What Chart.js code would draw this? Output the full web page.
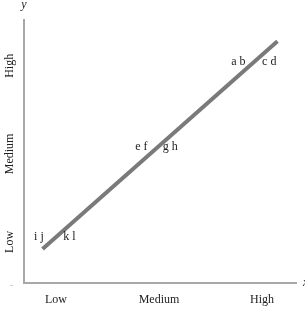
<!DOCTYPE html>
<html>
<head>
<meta charset="utf-8">
<script src="https://cdn.jsdelivr.net/npm/chart.js@4/dist/chart.umd.min.js"></script>
<style>
  html, body { margin: 0; padding: 0; background: #fff; }
  #wrap { width: 305px; height: 317px; }
</style>
</head>
<body>
<div id="wrap"><canvas id="chartCanvas" width="305" height="317"></canvas></div>
<script>
// tick positions and names
const tickValues = [1, 2, 3];
const tickNames = ['Low', 'Medium', 'High'];

// the single line (two end points)
const lineX = [0.87, 3.15];
const lineY = [0.92, 3.28];

// letter pairs placed along the line
const pairText = ['a b', 'c d', 'e f', 'g h', 'i j', 'k l'];
const pairX = [2.77, 3.07, 1.83, 2.11, 0.835, 1.13];
const pairY = [3.05, 3.05, 2.08, 2.08, 1.06, 1.06];

const serif = '"Liberation Serif", "DejaVu Serif", serif';

const extrasPlugin = {
    id: 'extras',
    afterDatasetsDraw(chart) {
        const ctx = chart.ctx;
        const xs = chart.scales.x;
        const ys = chart.scales.y;
        const area = chart.chartArea;
        ctx.save();
        ctx.fillStyle = '#222';
        ctx.font = '12px ' + serif;
        ctx.textAlign = 'center';
        ctx.textBaseline = 'middle';
        pairText.forEach((t, i) => {
            ctx.fillText(t, xs.getPixelForValue(pairX[i]), ys.getPixelForValue(pairY[i]));
        });

        // rotated y tick names
        tickValues.forEach((v, i) => {
            ctx.save();
            ctx.translate(10, ys.getPixelForValue(v));
            ctx.rotate(-Math.PI / 2);
            ctx.fillText(tickNames[i], 0, 0);
            ctx.restore();
        });

        // axis names
        ctx.font = 'italic 12px ' + serif;
        ctx.fillText('y', area.left, area.top - 15);
        ctx.textAlign = 'left';
        ctx.fillText('x', area.right + 7, area.bottom);

        ctx.fillStyle = '#ccc';
        ctx.fillRect(10, area.bottom + 2, 3, 1);
        ctx.restore();
    }
};

new Chart(document.getElementById('chartCanvas').getContext('2d'), {
    type: 'scatter',
    data: {
        datasets: [{
            data: lineX.map((x, i) => ({ x: x, y: lineY[i] })),
            showLine: true,
            borderColor: '#7a7a7a',
            borderWidth: 4,
            borderCapStyle: 'butt',
            pointRadius: 0,
            fill: false
        }]
    },
    options: {
        responsive: false,
        animation: false,
        layout: { padding: { left: 0, top: 20, right: 9, bottom: 0 } },
        plugins: { legend: { display: false }, tooltip: { enabled: false } },
        scales: {
            x: {
                type: 'linear',
                min: 0.69,
                max: 3.33,
                afterBuildTicks: scale => { scale.ticks = tickValues.map(v => ({ value: v })); },
                afterFit: scale => { scale.height = 34; },
                grid: { display: false, drawTicks: false },
                border: { display: true, color: '#a8a8a8', width: 2 },
                ticks: {
                    padding: 10,
                    maxRotation: 0,
                    color: '#222',
                    font: { family: serif, size: 12 },
                    callback: v => tickNames[tickValues.indexOf(v)]
                }
            },
            y: {
                type: 'linear',
                min: 0.534,
                max: 3.52,
                afterBuildTicks: scale => { scale.ticks = tickValues.map(v => ({ value: v })); },
                afterFit: scale => { scale.width = 24; },
                grid: { display: false, drawTicks: false },
                border: { display: true, color: '#a8a8a8', width: 2 },
                ticks: { display: false }
            }
        }
    },
    plugins: [extrasPlugin]
});
</script>
</body>
</html>
